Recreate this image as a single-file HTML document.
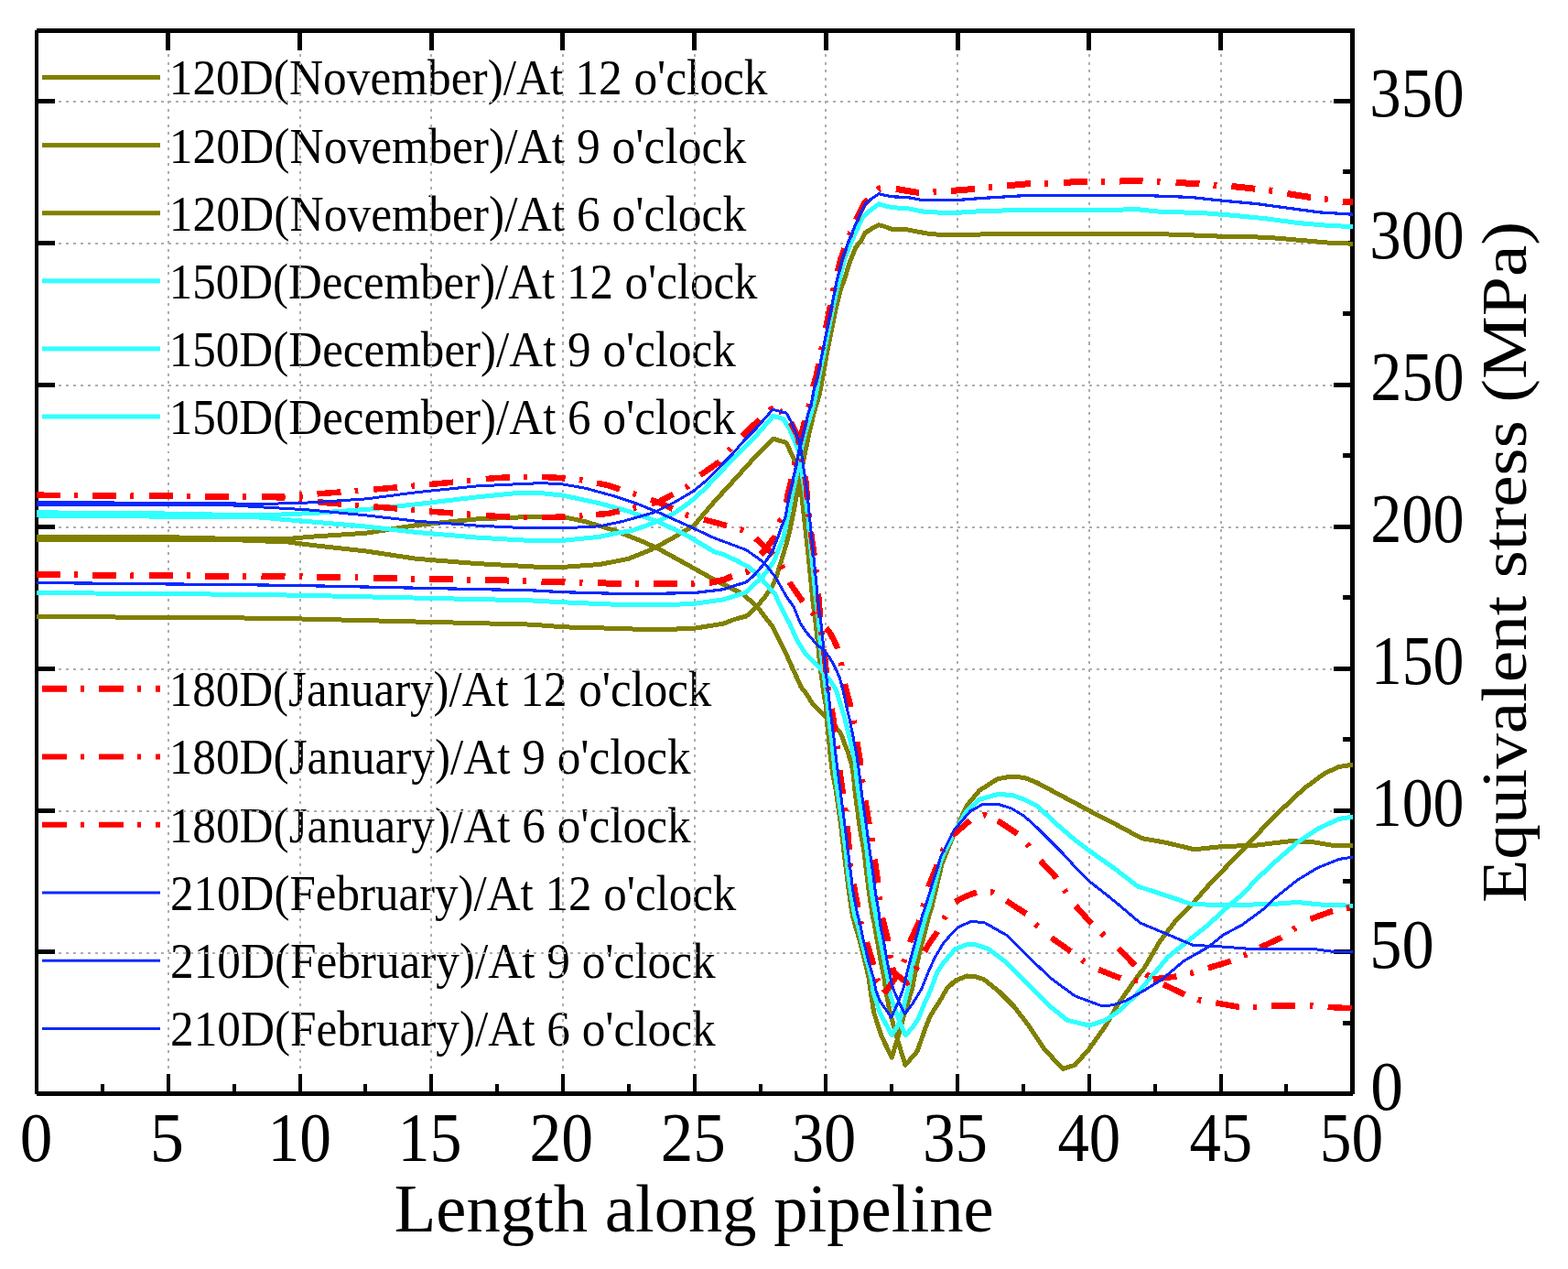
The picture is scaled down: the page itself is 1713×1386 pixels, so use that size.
<!DOCTYPE html><html><head><meta charset="utf-8"><title>Equivalent stress along pipeline</title><style>html,body{margin:0;padding:0;background:#fff;}svg{display:block;}text{font-family:"Liberation Serif",serif;fill:#000;}</style></head><body>
<svg width="1713" height="1386" viewBox="0 0 1713 1386">
<rect x="0" y="0" width="1713" height="1386" fill="#fff"/>
<g>
<text x="184.75" y="103.40" font-size="54" textLength="653.79" lengthAdjust="spacingAndGlyphs">120D(November)/At 12 o&#39;clock</text>
<text x="184.73" y="177.50" font-size="54" textLength="630.51" lengthAdjust="spacingAndGlyphs">120D(November)/At 9 o&#39;clock</text>
<text x="184.73" y="251.60" font-size="54" textLength="630.51" lengthAdjust="spacingAndGlyphs">120D(November)/At 6 o&#39;clock</text>
<text x="184.78" y="325.70" font-size="54" textLength="642.79" lengthAdjust="spacingAndGlyphs">150D(December)/At 12 o&#39;clock</text>
<text x="184.77" y="399.80" font-size="54" textLength="619.00" lengthAdjust="spacingAndGlyphs">150D(December)/At 9 o&#39;clock</text>
<text x="184.77" y="473.90" font-size="54" textLength="619.00" lengthAdjust="spacingAndGlyphs">150D(December)/At 6 o&#39;clock</text>
<text x="184.78" y="771.10" font-size="54" textLength="592.57" lengthAdjust="spacingAndGlyphs">180D(January)/At 12 o&#39;clock</text>
<text x="184.76" y="845.36" font-size="54" textLength="569.79" lengthAdjust="spacingAndGlyphs">180D(January)/At 9 o&#39;clock</text>
<text x="184.76" y="919.62" font-size="54" textLength="569.79" lengthAdjust="spacingAndGlyphs">180D(January)/At 6 o&#39;clock</text>
<text x="186.11" y="993.88" font-size="54" textLength="618.23" lengthAdjust="spacingAndGlyphs">210D(February)/At 12 o&#39;clock</text>
<text x="186.10" y="1068.14" font-size="54" textLength="595.45" lengthAdjust="spacingAndGlyphs">210D(February)/At 9 o&#39;clock</text>
<text x="186.10" y="1142.40" font-size="54" textLength="595.45" lengthAdjust="spacingAndGlyphs">210D(February)/At 6 o&#39;clock</text>
</g>
<path d="M184 59V1172 M328 59V1172 M471 59V1172 M615 59V1172 M759 59V1172 M902 59V1172 M1046 59V1172 M1190 59V1172 M1334 59V1172" stroke="#adadad" stroke-width="2" stroke-dasharray="3 5.5" fill="none" shape-rendering="crispEdges"/>
<path d="M64 1040.6H1455 M64 885.6H1455 M64 730.7H1455 M64 575.8H1455 M64 420.9H1455 M64 265.9H1455 M64 111.0H1455" stroke="#adadad" stroke-width="2" stroke-dasharray="3 4.985" fill="none" shape-rendering="crispEdges"/>
<g fill="#000">
<rect x="38" y="33" width="4" height="1162"/>
<rect x="1475" y="31" width="5" height="1164"/>
<rect x="40" y="31" width="1440" height="5"/>
<rect x="40" y="1192" width="1438" height="5"/>
<rect x="38" y="1173" width="4" height="20"/>
<rect x="110" y="1184" width="4" height="8"/>
<rect x="182" y="1173" width="4" height="20"/>
<rect x="254" y="1184" width="4" height="8"/>
<rect x="326" y="1173" width="4" height="20"/>
<rect x="397" y="1184" width="4" height="8"/>
<rect x="469" y="1173" width="4" height="20"/>
<rect x="541" y="1184" width="4" height="8"/>
<rect x="613" y="1173" width="4" height="20"/>
<rect x="685" y="1184" width="4" height="8"/>
<rect x="757" y="1173" width="4" height="20"/>
<rect x="829" y="1184" width="4" height="8"/>
<rect x="900" y="1173" width="4" height="20"/>
<rect x="972" y="1184" width="4" height="8"/>
<rect x="1044" y="1173" width="4" height="20"/>
<rect x="1116" y="1184" width="4" height="8"/>
<rect x="1188" y="1173" width="4" height="20"/>
<rect x="1260" y="1184" width="4" height="8"/>
<rect x="1332" y="1173" width="4" height="20"/>
<rect x="1403" y="1184" width="4" height="8"/>
<rect x="1475" y="1173" width="4" height="20"/>
<rect x="181" y="35" width="5" height="20"/>
<rect x="325" y="35" width="5" height="20"/>
<rect x="469" y="35" width="5" height="20"/>
<rect x="612" y="35" width="5" height="20"/>
<rect x="756" y="35" width="5" height="20"/>
<rect x="900" y="35" width="5" height="20"/>
<rect x="1044" y="35" width="5" height="20"/>
<rect x="1187" y="35" width="5" height="20"/>
<rect x="1331" y="35" width="5" height="20"/>
<rect x="41" y="1037" width="19" height="5"/>
<rect x="41" y="883" width="19" height="5"/>
<rect x="41" y="728" width="19" height="5"/>
<rect x="41" y="573" width="19" height="5"/>
<rect x="41" y="418" width="19" height="5"/>
<rect x="41" y="263" width="19" height="5"/>
<rect x="41" y="108" width="19" height="5"/>
<rect x="1467" y="1115" width="9" height="5"/>
<rect x="1457" y="1037" width="19" height="5"/>
<rect x="1467" y="960" width="9" height="5"/>
<rect x="1457" y="883" width="19" height="5"/>
<rect x="1467" y="805" width="9" height="5"/>
<rect x="1457" y="728" width="19" height="5"/>
<rect x="1467" y="650" width="9" height="5"/>
<rect x="1457" y="573" width="19" height="5"/>
<rect x="1467" y="495" width="9" height="5"/>
<rect x="1457" y="418" width="19" height="5"/>
<rect x="1467" y="340" width="9" height="5"/>
<rect x="1457" y="263" width="19" height="5"/>
<rect x="1467" y="185" width="9" height="5"/>
<rect x="1457" y="108" width="19" height="5"/>
</g>
<polyline points="40.0,586.0 180.0,586.6 255.0,588.5 315.0,588.5 340.0,586.2 400.0,582.2 455.0,573.6 520.0,567.0 580.0,564.4 591.7,564.1 614.8,564.4 639.4,569.7 671.1,579.2 702.9,591.9 718.7,599.0 750.5,616.5 780.0,633.0 811.7,648.9 827.6,663.2 843.5,683.8 859.4,715.6 875.2,750.5 880.0,756.4 888.7,770.0 896.5,777.8 902.3,783.0 912.7,794.0 917.3,799.2 919.9,804.4 922.5,812.2 926.4,821.9 930.3,834.9 932.6,847.9 933.5,860.0 938.7,900.4 943.9,930.0 946.7,953.1 949.6,976.2 953.1,999.3 955.0,1008.0 958.5,1028.1 962.5,1051.2 966.6,1071.4 967.3,1080.0 972.3,1106.0 980.4,1135.2 989.0,1163.3 1002.1,1148.2 1010.0,1125.5 1016.4,1109.2 1025.0,1096.2 1034.4,1080.0 1043.4,1071.2 1056.4,1066.0 1065.0,1066.6 1074.7,1069.5 1091.3,1082.8 1107.9,1099.4 1124.5,1121.0 1141.1,1145.9 1161.0,1167.4 1174.3,1163.3 1189.7,1145.9 1207.5,1121.0 1222.0,1096.0 1243.5,1065.5 1250.0,1057.4 1267.3,1027.9 1284.6,1005.4 1302.0,988.1 1319.3,968.2 1336.6,950.0 1356.6,929.3 1379.4,905.0 1402.2,882.2 1424.9,861.0 1447.7,844.3 1462.9,837.5 1478.0,835.2" fill="none" stroke="#808000" stroke-width="5" stroke-linejoin="round" shape-rendering="crispEdges"/>
<polyline points="40.0,589.2 255.0,589.6 315.0,592.0 340.0,595.3 400.0,602.0 455.0,610.3 520.0,615.5 580.0,618.8 591.7,619.7 614.8,619.4 655.2,616.5 687.0,610.2 710.8,600.6 734.6,587.9 758.4,573.7 780.0,548.3 800.0,526.5 826.0,497.9 844.8,479.1 859.1,483.6 867.5,501.8 872.7,518.7 875.3,536.9 879.0,570.0 882.4,600.0 885.3,628.9 888.1,657.7 891.0,679.4 893.2,700.0 895.6,724.6 897.9,742.0 900.2,759.3 902.3,770.0 903.6,789.5 905.6,809.0 907.5,828.4 910.1,847.9 912.7,860.0 918.5,900.4 921.9,930.0 924.8,953.1 927.7,976.2 931.2,999.3 933.5,1008.0 939.4,1028.1 945.2,1051.2 949.2,1068.5 951.2,1083.0 954.7,1106.0 963.2,1132.0 974.2,1155.0 980.4,1135.2 986.6,1112.5 990.5,1099.5 996.5,1080.0 1001.2,1054.9 1005.8,1035.5 1011.0,1016.0 1014.9,999.7 1018.1,990.0 1029.0,944.0 1042.0,911.1 1056.0,880.2 1070.0,863.4 1089.7,850.8 1105.1,848.0 1119.1,849.4 1133.1,855.0 1154.1,866.2 1175.1,877.4 1196.1,888.7 1218.6,900.2 1247.3,915.6 1273.1,920.2 1305.0,927.8 1333.8,924.7 1371.8,923.2 1409.7,918.7 1432.5,919.4 1455.3,923.2 1478.0,923.5" fill="none" stroke="#808000" stroke-width="5" stroke-linejoin="round" shape-rendering="crispEdges"/>
<polyline points="40.0,673.4 280.0,675.1 340.0,676.2 580.0,682.1 614.8,684.8 671.1,686.3 715.6,687.9 758.4,686.3 790.0,681.2 803.1,676.2 815.3,673.1 827.4,662.0 836.5,650.9 844.5,638.8 848.6,628.7 852.6,615.6 858.7,595.4 862.7,580.2 864.7,570.0 866.8,560.0 870.3,541.1 874.3,520.9 878.3,500.7 883.4,475.5 889.4,450.2 892.6,440.0 895.5,430.0 898.9,411.1 903.4,385.9 908.5,360.6 913.5,335.4 918.6,315.2 922.6,305.0 928.3,286.3 934.7,270.4 941.0,262.5 945.0,254.5 952.1,249.8 960.1,245.8 966.4,247.4 975.0,250.6 991.1,250.8 1011.3,254.8 1031.5,256.9 1061.8,256.5 1090.0,255.0 1150.0,255.2 1220.1,255.9 1255.1,255.2 1301.8,256.9 1336.9,258.3 1383.6,259.2 1418.6,262.2 1453.6,265.3 1478.0,266.2" fill="none" stroke="#808000" stroke-width="5" stroke-linejoin="round" shape-rendering="crispEdges"/>
<polyline points="40.0,559.8 180.0,561.0 283.0,563.0 340.0,560.6 400.0,556.5 455.0,550.8 520.0,543.0 560.0,539.0 591.7,538.7 614.8,541.1 655.2,549.8 687.0,558.6 718.7,569.7 750.5,584.8 780.0,602.5 790.0,605.5 805.2,612.5 818.3,619.6 828.4,627.7 838.5,639.8 846.6,648.9 854.6,666.1 862.7,681.2 869.8,697.4 872.0,701.3 880.0,714.2 888.7,722.3 897.3,731.6 906.0,742.0 913.5,753.5 918.4,770.0 922.5,783.0 926.4,799.2 930.3,815.5 934.2,831.7 935.6,847.9 937.2,860.0 943.0,900.4 947.3,930.0 949.6,953.1 952.5,976.2 956.6,999.3 958.4,1008.0 962.0,1028.1 966.6,1051.2 970.6,1071.4 972.3,1086.0 981.4,1112.5 989.2,1130.6 997.0,1122.2 1003.4,1112.5 1009.9,1096.2 1017.2,1080.0 1024.0,1061.4 1030.5,1051.7 1043.4,1036.8 1056.4,1031.6 1065.0,1031.6 1079.7,1036.3 1099.6,1051.2 1124.5,1076.1 1149.4,1101.0 1166.0,1114.3 1189.7,1120.1 1207.5,1114.3 1222.0,1104.5 1240.0,1087.8 1255.2,1070.0 1276.0,1045.2 1297.6,1027.9 1319.3,1010.6 1340.9,990.7 1358.2,976.0 1371.8,961.2 1394.6,939.9 1417.3,920.2 1440.1,905.0 1462.9,894.4 1478.0,892.1" fill="none" stroke="#30ffff" stroke-width="5" stroke-linejoin="round" shape-rendering="crispEdges"/>
<polyline points="40.0,563.0 283.0,565.0 340.0,569.9 400.0,575.1 455.0,581.4 520.0,587.0 580.0,590.5 614.8,590.3 655.2,586.3 672.0,582.5 690.0,579.7 705.9,574.1 721.7,567.8 737.6,559.8 753.5,548.7 769.4,534.4 785.2,517.8 800.0,501.9 826.0,475.8 844.8,454.4 855.8,457.7 862.3,468.0 872.7,492.7 875.3,510.9 879.2,536.9 883.0,566.0 886.0,600.0 888.9,628.9 891.7,657.7 894.6,679.4 896.1,700.0 897.3,713.1 900.2,736.2 903.1,759.3 904.3,770.0 906.2,789.5 908.8,809.0 910.8,828.4 912.7,847.9 914.5,860.0 920.5,900.4 924.2,930.0 926.5,953.1 930.0,976.2 933.5,999.3 936.6,1008.0 941.7,1028.1 947.5,1051.2 952.1,1068.5 954.0,1083.0 961.2,1106.0 974.2,1130.6 981.4,1119.0 987.2,1099.5 992.0,1080.0 996.7,1054.9 1001.9,1035.5 1007.1,1016.0 1011.6,999.7 1014.9,990.0 1028.0,939.1 1042.0,909.7 1056.0,885.8 1070.0,873.2 1089.7,867.6 1105.1,868.3 1119.1,873.2 1133.1,880.2 1154.1,899.9 1175.1,918.1 1196.1,933.5 1218.0,948.9 1242.8,968.0 1273.1,977.9 1302.0,987.7 1341.4,988.5 1387.0,987.7 1417.3,985.5 1447.7,988.5 1478.0,989.2" fill="none" stroke="#30ffff" stroke-width="5" stroke-linejoin="round" shape-rendering="crispEdges"/>
<polyline points="40.0,647.5 280.0,649.4 340.0,650.5 580.0,655.9 614.8,657.8 671.1,660.2 718.7,661.0 758.4,659.4 790.0,654.9 803.1,650.9 815.3,646.9 823.3,638.8 832.4,630.7 839.5,621.6 845.6,612.5 850.6,600.4 855.7,587.3 859.6,570.0 865.2,541.1 870.8,515.9 875.3,490.6 880.4,470.4 886.4,450.2 889.2,440.0 891.5,430.0 894.8,411.1 899.9,385.9 905.0,360.6 910.0,335.4 914.5,315.2 917.2,305.0 922.8,282.3 929.1,266.4 936.3,250.6 942.6,237.1 947.4,232.3 953.7,227.5 960.1,222.8 966.4,224.8 975.0,226.7 991.1,227.6 1011.3,231.6 1041.6,232.6 1071.9,230.6 1115.0,229.5 1185.1,229.5 1243.5,228.8 1266.8,231.2 1313.5,232.6 1348.5,235.4 1383.6,238.9 1418.6,243.6 1453.6,246.6 1478.0,247.5" fill="none" stroke="#30ffff" stroke-width="5" stroke-linejoin="round" shape-rendering="crispEdges"/>
<g fill="none" stroke="#ff0000" stroke-width="6.5" stroke-dasharray="26 15.2 3.8 16.2" stroke-linejoin="round" shape-rendering="crispEdges">
<polyline points="40.0,540.7 93.0,541.1" stroke-dashoffset="0.10"/>
<polyline points="93.0,541.1 154.4,541.5" stroke-dashoffset="52.90"/>
<polyline points="154.4,541.5 215.9,541.9" stroke-dashoffset="52.80"/>
<polyline points="215.9,541.9 277.2,542.3" stroke-dashoffset="53.00"/>
<polyline points="277.2,542.3 300.0,542.5 338.6,539.9" stroke-dashoffset="52.79"/>
<polyline points="338.6,539.9 359.0,538.5 399.5,535.2" stroke-dashoffset="53.27"/>
<polyline points="399.5,535.2 421.0,533.5 461.2,529.8" stroke-dashoffset="52.35"/>
<polyline points="461.2,529.8 481.0,528.0 521.9,524.0" stroke-dashoffset="53.25"/>
<polyline points="521.9,524.0 543.0,521.9 573.0,521.0 583.8,521.1" stroke-dashoffset="52.33"/>
<polyline points="583.8,521.1 603.0,521.3 634.6,524.1 644.4,526.1" stroke-dashoffset="53.37"/>
<polyline points="644.4,526.1 664.0,530.0 693.0,539.5 702.7,542.9" stroke-dashoffset="53.51"/>
<polyline points="702.7,542.9 720.0,549.0 750.4,562.5 760.2,565.1" stroke-dashoffset="52.60"/>
<polyline points="760.2,565.1 780.7,570.5 810.4,578.7 819.0,583.8" stroke-dashoffset="52.25"/>
<polyline points="819.0,583.8 824.4,587.0 846.7,607.6 854.6,619.5 858.9,628.5" stroke-dashoffset="53.38"/>
<polyline points="858.9,628.5 862.5,636.0 870.0,647.0 877.0,657.0 888.5,670.3 895.0,677.4" stroke-dashoffset="53.26"/>
<polyline points="895.0,677.4 901.0,684.0 906.0,690.0 911.0,699.0 915.0,708.0 918.5,722.0 920.7,735.1" stroke-dashoffset="49.74"/>
<polyline points="920.7,735.1 921.5,740.0 925.0,756.0 929.0,770.0 932.9,788.8 934.5,798.7" stroke-dashoffset="49.18"/>
<polyline points="934.5,798.7 936.0,808.0 939.5,830.0 942.2,852.8 943.6,862.7" stroke-dashoffset="49.62"/>
<polyline points="943.6,862.7 945.0,872.0 949.0,897.0 952.5,917.0 953.8,926.9" stroke-dashoffset="49.27"/>
<polyline points="953.8,926.9 954.8,935.0 957.0,948.0 959.0,962.0 960.9,981.4 962.3,991.3" stroke-dashoffset="49.33"/>
<polyline points="962.3,991.3 963.5,1000.0 966.0,1010.0 969.5,1024.0 972.5,1044.8 974.7,1054.6" stroke-dashoffset="49.77"/>
<polyline points="974.7,1054.6 976.4,1062.2 988.7,1071.7 991.0,1073.5 1000.0,1060.0 1005.3,1048.4" stroke-dashoffset="59.04"/>
<polyline points="1005.3,1048.4 1008.3,1042.0 1016.0,1029.0 1024.0,1018.0 1031.0,1004.0 1037.1,993.6" stroke-dashoffset="50.84"/>
<polyline points="1037.1,993.6 1041.5,986.0 1055.0,979.0 1068.0,974.1 1083.8,974.5 1092.5,979.8" stroke-dashoffset="50.36"/>
<polyline points="1092.5,979.8 1099.6,984.0 1121.2,998.1 1132.8,1010.6 1140.3,1017.2" stroke-dashoffset="53.22"/>
<polyline points="1140.3,1017.2 1146.9,1023.0 1169.3,1038.8 1183.4,1049.6 1192.1,1054.6" stroke-dashoffset="50.35"/>
<polyline points="1192.1,1054.6 1199.2,1058.7 1224.9,1068.7 1241.3,1071.0 1251.3,1070.2" stroke-dashoffset="51.93"/>
<polyline points="1251.3,1070.2 1259.5,1069.6 1285.3,1066.5 1302.0,1062.7 1311.6,1059.8" stroke-dashoffset="52.93"/>
<polyline points="1311.6,1059.8 1319.4,1057.4 1344.5,1049.8 1360.4,1043.0 1369.3,1038.5" stroke-dashoffset="52.59"/>
<polyline points="1369.3,1038.5 1375.6,1035.4 1399.9,1024.0 1414.3,1014.2 1422.8,1008.9" stroke-dashoffset="53.05"/>
<polyline points="1422.8,1008.9 1430.2,1004.3 1455.3,995.2 1478.0,990.5" stroke-dashoffset="51.06"/>
</g>
<g fill="none" stroke="#ff0000" stroke-width="6.5" stroke-dasharray="26 15.2 3.8 16.2" stroke-linejoin="round" shape-rendering="crispEdges">
<polyline points="40.0,540.7 93.0,541.2" stroke-dashoffset="0.10"/>
<polyline points="93.0,541.2 154.4,541.7" stroke-dashoffset="52.90"/>
<polyline points="154.4,541.7 215.9,542.3" stroke-dashoffset="52.80"/>
<polyline points="215.9,542.3 277.2,542.8" stroke-dashoffset="53.00"/>
<polyline points="277.2,542.8 300.0,543.0 338.4,547.2" stroke-dashoffset="52.84"/>
<polyline points="338.4,547.2 359.0,549.4 399.8,552.7" stroke-dashoffset="52.67"/>
<polyline points="399.8,552.7 420.0,554.3 461.2,557.8" stroke-dashoffset="52.69"/>
<polyline points="461.2,557.8 481.0,559.5 522.0,562.4" stroke-dashoffset="53.28"/>
<polyline points="522.0,562.4 543.0,563.9 573.0,565.0 583.8,565.0" stroke-dashoffset="52.47"/>
<polyline points="583.8,565.0 603.0,565.0 634.6,563.3 644.6,562.5" stroke-dashoffset="53.45"/>
<polyline points="644.6,562.5 664.0,561.0 693.0,554.6 703.0,552.2" stroke-dashoffset="54.82"/>
<polyline points="703.0,552.2 720.0,548.0 751.0,531.4 758.0,524.9" stroke-dashoffset="52.07"/>
<polyline points="758.0,524.9 763.0,520.4 786.0,504.3 797.2,491.0 803.9,483.6" stroke-dashoffset="52.12"/>
<polyline points="803.9,483.6 809.3,477.7 820.0,467.3 842.5,446.6 851.9,449.3" stroke-dashoffset="51.05"/>
<polyline points="851.9,449.3 858.4,451.2 871.4,475.8 878.0,513.5 880.5,527.0 883.0,558.0 887.0,589.0 889.0,602.0 891.4,623.8 892.4,633.8" stroke-dashoffset="42.66"/>
<polyline points="892.4,633.8 894.6,656.0 897.2,688.5 901.3,720.0 904.8,752.3 906.5,762.2" stroke-dashoffset="46.28"/>
<polyline points="906.5,762.2 910.4,785.0 914.7,816.5 915.8,826.4" stroke-dashoffset="49.33"/>
<polyline points="915.8,826.4 918.2,847.5 925.6,900.4 929.0,945.0 930.7,954.8" stroke-dashoffset="46.16"/>
<polyline points="930.7,954.8 934.6,976.8 940.4,1008.0 943.3,1017.6" stroke-dashoffset="50.28"/>
<polyline points="943.3,1017.6 950.1,1039.6 955.5,1058.0 958.4,1070.5 964.4,1078.5" stroke-dashoffset="49.24"/>
<polyline points="964.4,1078.5 967.7,1083.0 979.0,1067.0 988.0,1049.0 990.7,1039.9" stroke-dashoffset="59.50"/>
<polyline points="990.7,1039.9 994.0,1029.0 1004.5,1005.6 1008.0,992.0 1011.4,979.1" stroke-dashoffset="49.90"/>
<polyline points="1011.4,979.1 1013.9,969.4 1023.2,946.5 1030.1,928.6 1035.6,920.2" stroke-dashoffset="50.38"/>
<polyline points="1035.6,920.2 1040.6,912.5 1060.2,895.7 1075.7,890.0 1084.8,894.2" stroke-dashoffset="52.75"/>
<polyline points="1084.8,894.2 1091.0,897.0 1112.0,911.0 1123.3,923.0 1129.4,931.0" stroke-dashoffset="55.75"/>
<polyline points="1129.4,931.0 1134.5,937.7 1154.1,958.7 1163.7,973.3 1169.4,981.5" stroke-dashoffset="49.62"/>
<polyline points="1169.4,981.5 1173.9,988.1 1190.0,1006.0 1205.0,1020.5 1212.5,1027.2" stroke-dashoffset="51.39"/>
<polyline points="1212.5,1027.2 1219.0,1033.0 1238.5,1053.0 1253.4,1065.0 1262.0,1070.1" stroke-dashoffset="48.47"/>
<polyline points="1262.0,1070.1 1268.6,1074.1 1294.4,1086.3 1310.3,1092.3 1320.2,1094.0" stroke-dashoffset="51.05"/>
<polyline points="1320.2,1094.0 1328.5,1095.4 1353.6,1099.9 1371.0,1099.9 1381.0,1099.1" stroke-dashoffset="52.94"/>
<polyline points="1381.0,1099.1 1389.2,1098.4 1415.8,1098.4 1432.5,1098.4 1450.7,1099.9 1478.0,1101.4" stroke-dashoffset="52.74"/>
</g>
<g fill="none" stroke="#ff0000" stroke-width="7" stroke-dasharray="26 15.2 3.8 16.2" stroke-linejoin="round" shape-rendering="crispEdges">
<polyline points="40.0,627.5 93.0,628.0" stroke-dashoffset="0.10"/>
<polyline points="93.0,628.0 154.4,628.5" stroke-dashoffset="52.90"/>
<polyline points="154.4,628.5 215.9,629.0" stroke-dashoffset="52.80"/>
<polyline points="215.9,629.0 277.2,629.6" stroke-dashoffset="53.00"/>
<polyline points="277.2,629.6 280.0,629.6 338.6,630.0" stroke-dashoffset="52.89"/>
<polyline points="338.6,630.0 340.0,630.0 399.5,631.1" stroke-dashoffset="53.39"/>
<polyline points="399.5,631.1 461.2,632.3" stroke-dashoffset="52.59"/>
<polyline points="461.2,632.3 522.0,633.4" stroke-dashoffset="53.49"/>
<polyline points="522.0,633.4 580.0,634.5 582.7,634.6" stroke-dashoffset="53.58"/>
<polyline points="582.7,634.6 602.9,635.6 634.6,636.3 644.6,636.6" stroke-dashoffset="52.37"/>
<polyline points="644.6,636.6 665.6,637.1 695.7,637.9 705.7,637.9" stroke-dashoffset="53.18"/>
<polyline points="705.7,637.9 726.7,637.9 756.8,637.9 766.8,637.0" stroke-dashoffset="53.20"/>
<polyline points="766.8,637.0 777.5,636.0 790.0,633.5 801.0,629.0 816.3,624.6 822.6,616.8" stroke-dashoffset="52.96"/>
<polyline points="822.6,616.8 828.4,609.5 837.5,598.0 846.6,586.3 852.6,569.1 856.5,565.0 857.3,560.7" stroke-dashoffset="47.25"/>
<polyline points="857.3,560.7 860.7,541.1 866.7,515.9 870.5,497.1" stroke-dashoffset="49.25"/>
<polyline points="870.5,497.1 871.8,490.6 876.8,470.4 881.9,450.2 885.1,440.0 886.3,433.4" stroke-dashoffset="48.69"/>
<polyline points="886.3,433.4 887.8,425.0 891.8,411.1 896.9,385.9 899.9,370.8" stroke-dashoffset="50.18"/>
<polyline points="899.9,370.8 901.9,360.6 907.0,335.4 911.0,315.2 912.8,306.6" stroke-dashoffset="48.78"/>
<polyline points="912.8,306.6 913.1,305.0 918.9,282.3 925.2,264.8 931.6,249.0 932.8,246.3" stroke-dashoffset="50.63"/>
<polyline points="932.8,246.3 937.9,234.7 944.3,222.0 950.0,216.0 960.5,206.0 970.5,206.2" stroke-dashoffset="54.68"/>
<polyline points="970.5,206.2 979.0,206.4 1003.2,210.4 1021.4,209.4 1031.4,208.9" stroke-dashoffset="53.04"/>
<polyline points="1031.4,208.9 1039.6,208.4 1064.8,206.4 1082.0,204.3 1092.0,203.5" stroke-dashoffset="53.47"/>
<polyline points="1092.0,203.5 1101.0,202.7 1126.7,200.4 1143.0,200.4 1153.0,199.8" stroke-dashoffset="53.13"/>
<polyline points="1153.0,199.8 1162.9,199.2 1187.4,198.5 1205.0,198.0 1215.0,198.0" stroke-dashoffset="52.25"/>
<polyline points="1215.0,198.0 1223.6,198.0 1248.1,197.6 1265.6,198.5 1275.6,199.1" stroke-dashoffset="53.67"/>
<polyline points="1275.6,199.1 1284.3,199.7 1310.0,200.4 1327.5,202.2 1337.5,202.9" stroke-dashoffset="52.26"/>
<polyline points="1337.5,202.9 1345.0,203.4 1370.7,206.2 1388.2,208.1 1398.0,209.9" stroke-dashoffset="53.30"/>
<polyline points="1398.0,209.9 1406.9,211.6 1431.4,215.5 1448.9,217.9 1467.6,220.2 1478.0,220.9" stroke-dashoffset="52.80"/>
</g>
<polyline points="40.0,548.6 248.0,549.6 278.0,550.8 340.0,548.9 400.0,544.9 455.0,537.7 520.0,531.0 560.0,529.0 591.7,527.6 614.8,528.9 639.4,533.2 671.1,541.9 694.9,549.8 718.7,559.4 750.5,573.7 780.0,587.5 814.9,600.5 827.6,609.2 835.6,615.6 846.7,629.8 859.4,652.0 867.2,662.8 874.4,680.8 880.5,690.0 888.9,700.0 891.5,703.3 900.2,710.2 906.0,717.7 911.7,727.5 917.5,740.8 921.6,756.4 924.4,770.0 928.3,786.2 931.6,802.5 934.8,818.7 937.4,834.9 939.2,848.0 940.5,860.0 946.2,900.4 951.0,935.0 953.7,953.1 956.6,976.2 960.6,999.3 961.3,1008.0 965.4,1028.1 969.4,1051.2 974.1,1074.3 975.8,1080.0 981.4,1093.0 988.5,1107.3 997.0,1096.2 1006.9,1080.0 1014.2,1061.4 1021.4,1045.8 1030.5,1030.3 1040.2,1019.2 1046.7,1012.7 1059.7,1006.9 1065.0,1006.6 1076.3,1008.1 1099.6,1021.4 1124.5,1046.3 1149.4,1069.5 1174.3,1087.8 1204.0,1098.8 1215.8,1097.8 1230.0,1093.0 1250.4,1081.5 1269.0,1070.0 1293.3,1049.6 1319.3,1034.8 1336.6,1021.0 1356.6,1010.4 1379.4,993.7 1394.6,979.4 1417.3,961.2 1440.1,947.5 1462.9,938.4 1478.0,936.1" fill="none" stroke="#0a28ff" stroke-width="3" stroke-linejoin="round" shape-rendering="crispEdges"/>
<polyline points="40.0,551.4 248.0,551.6 278.0,553.4 340.0,557.1 400.0,562.9 455.0,569.2 520.0,574.0 580.0,577.0 614.8,576.8 655.2,574.8 680.0,569.5 714.6,559.7 737.7,548.1 757.3,536.6 770.0,526.2 783.9,512.3 800.0,496.0 813.0,481.0 826.0,468.0 844.2,447.3 859.1,451.2 864.9,461.6 872.7,481.0 875.3,492.7 877.9,510.9 881.8,536.9 885.0,570.0 888.1,600.0 891.0,628.9 893.9,657.7 896.8,679.4 899.0,700.0 899.6,707.3 901.4,724.6 903.1,742.0 905.4,759.3 906.4,770.0 908.8,789.5 911.4,809.0 913.4,828.4 916.0,847.9 917.6,860.0 922.8,900.4 926.5,930.0 929.4,953.1 932.3,976.2 936.9,999.3 939.4,1008.0 943.5,1028.1 949.2,1051.2 954.4,1068.5 957.0,1082.0 961.2,1093.0 973.6,1111.2 980.7,1096.2 986.8,1080.0 992.8,1054.9 998.0,1035.5 1003.2,1016.0 1007.7,999.7 1011.0,990.0 1028.0,934.9 1042.0,906.9 1060.2,885.8 1074.3,878.1 1089.7,878.1 1105.1,883.0 1119.1,891.5 1133.1,904.1 1147.1,918.1 1161.1,932.1 1175.1,947.5 1190.5,962.9 1210.2,978.3 1222.0,988.0 1245.8,1008.1 1273.1,1019.5 1303.5,1032.4 1333.8,1033.9 1371.8,1036.9 1402.2,1036.2 1432.5,1036.2 1455.3,1039.2 1478.0,1040.0" fill="none" stroke="#0a28ff" stroke-width="3" stroke-linejoin="round" shape-rendering="crispEdges"/>
<polyline points="40.0,636.5 280.0,638.9 340.0,639.8 580.0,644.8 614.8,646.7 671.1,648.3 718.7,648.3 758.4,647.5 790.0,643.8 802.1,639.8 815.3,635.8 823.3,628.7 832.4,618.6 838.5,610.5 844.5,600.4 849.6,587.3 854.6,573.1 858.0,565.0 862.2,541.1 868.2,515.9 873.3,490.6 878.3,470.4 883.4,450.2 886.6,440.0 889.3,425.0 893.3,411.1 898.4,385.9 903.4,360.6 908.5,335.4 912.5,315.2 914.6,305.0 920.4,282.3 926.7,264.8 933.1,249.0 939.4,234.7 945.8,222.0 952.1,217.2 960.1,211.7 966.4,213.3 975.0,214.8 991.1,215.5 1007.3,218.5 1031.5,218.5 1045.7,218.5 1071.9,216.5 1100.0,214.8 1115.0,213.9 1185.1,213.2 1243.5,213.2 1301.8,215.5 1333.4,219.0 1371.9,222.5 1406.9,227.2 1441.9,231.9 1478.0,234.2" fill="none" stroke="#0a28ff" stroke-width="3.2" stroke-linejoin="round" shape-rendering="crispEdges"/>
<rect x="46" y="82.0" width="129" height="5" fill="#808000"/>
<rect x="46" y="156.1" width="129" height="5" fill="#808000"/>
<rect x="46" y="230.2" width="129" height="5" fill="#808000"/>
<rect x="46" y="304.3" width="129" height="5" fill="#30ffff"/>
<rect x="46" y="378.4" width="129" height="5" fill="#30ffff"/>
<rect x="46" y="452.5" width="129" height="5" fill="#30ffff"/>
<line x1="46" y1="752.2" x2="175" y2="752.2" stroke="#ff0000" stroke-width="7" stroke-dasharray="27 15 4 16"/>
<line x1="46" y1="826.5" x2="175" y2="826.5" stroke="#ff0000" stroke-width="6" stroke-dasharray="27 15 4 16"/>
<line x1="46" y1="900.7" x2="175" y2="900.7" stroke="#ff0000" stroke-width="6" stroke-dasharray="27 15 4 16"/>
<rect x="46" y="973.5" width="129" height="3" fill="#0a28ff"/>
<rect x="46" y="1047.7" width="129" height="3" fill="#0a28ff"/>
<rect x="46" y="1122.0" width="129" height="3" fill="#0a28ff"/>
<text x="21.65" y="1268.2" font-size="75.5" textLength="35.62" lengthAdjust="spacingAndGlyphs">0</text>
<text x="163.73" y="1268.2" font-size="75.5" textLength="37.26" lengthAdjust="spacingAndGlyphs">5</text>
<text x="292.42" y="1268.2" font-size="75.5" textLength="69.46" lengthAdjust="spacingAndGlyphs">10</text>
<text x="434.56" y="1268.2" font-size="75.5" textLength="70.04" lengthAdjust="spacingAndGlyphs">15</text>
<text x="578.42" y="1268.2" font-size="75.5" textLength="69.57" lengthAdjust="spacingAndGlyphs">20</text>
<text x="721.76" y="1268.2" font-size="75.5" textLength="71.09" lengthAdjust="spacingAndGlyphs">25</text>
<text x="864.74" y="1268.2" font-size="75.5" textLength="70.59" lengthAdjust="spacingAndGlyphs">30</text>
<text x="1008.11" y="1268.2" font-size="75.5" textLength="71.03" lengthAdjust="spacingAndGlyphs">35</text>
<text x="1155.38" y="1268.2" font-size="75.5" textLength="68.87" lengthAdjust="spacingAndGlyphs">40</text>
<text x="1299.38" y="1268.2" font-size="75.5" textLength="68.77" lengthAdjust="spacingAndGlyphs">45</text>
<text x="1441.79" y="1268.2" font-size="75.5" textLength="69.49" lengthAdjust="spacingAndGlyphs">50</text>
<text x="1497.14" y="1211.60" font-size="75.5" textLength="35.74" lengthAdjust="spacingAndGlyphs">0</text>
<text x="1496.24" y="1056.67" font-size="75.5" textLength="70.48" lengthAdjust="spacingAndGlyphs">50</text>
<text x="1497.66" y="901.75" font-size="75.5" textLength="101.91" lengthAdjust="spacingAndGlyphs">100</text>
<text x="1497.66" y="746.82" font-size="75.5" textLength="101.91" lengthAdjust="spacingAndGlyphs">150</text>
<text x="1497.27" y="591.90" font-size="75.5" textLength="102.30" lengthAdjust="spacingAndGlyphs">200</text>
<text x="1497.27" y="436.97" font-size="75.5" textLength="102.30" lengthAdjust="spacingAndGlyphs">250</text>
<text x="1496.33" y="282.05" font-size="75.5" textLength="103.27" lengthAdjust="spacingAndGlyphs">300</text>
<text x="1496.33" y="127.13" font-size="75.5" textLength="103.27" lengthAdjust="spacingAndGlyphs">350</text>
<text x="430.80" y="1344.80" font-size="74.5" textLength="654.79" lengthAdjust="spacingAndGlyphs">Length along pipeline</text>
<text transform="translate(1667,986.11) rotate(-90)" x="0" y="0" font-size="70" textLength="744.16" lengthAdjust="spacingAndGlyphs">Equivalent stress (MPa)</text>
</svg></body></html>
